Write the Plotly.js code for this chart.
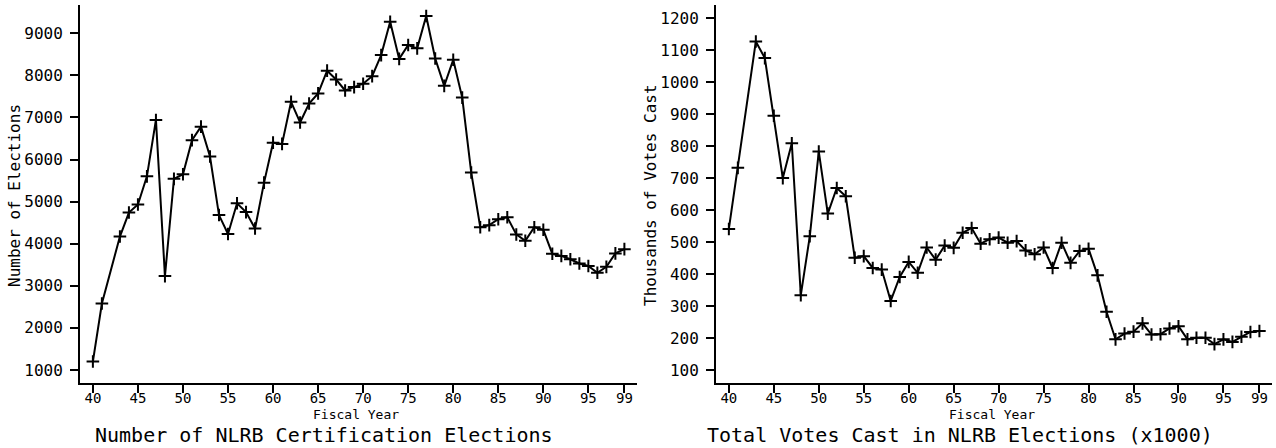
<!DOCTYPE html>
<html>
<head>
<meta charset="utf-8">
<script src="https://cdn.plot.ly/plotly-3.0.1.min.js"></script>
<style>html,body{margin:0;padding:0;background:#fff;}#chart{width:1276px;height:448px;}</style>
</head>
<body>
<div id="chart"></div>
<script>
const years = [40,41,43,44,45,46,47,48,49,50,51,52,53,54,55,56,57,58,59,60,61,62,63,64,65,66,67,68,69,70,71,72,73,74,75,76,77,78,79,80,81,82,83,84,85,86,87,88,89,90,91,92,93,94,95,96,97,98,99];
const elections = [1200,2580,4170,4740,4930,5600,6940,3230,5540,5650,6460,6780,6070,4680,4230,4960,4750,4360,5450,6400,6370,7370,6880,7330,7570,8110,7900,7640,7720,7800,7980,8480,9270,8390,8720,8640,9410,8400,7750,8370,7470,5690,4390,4440,4580,4630,4220,4070,4390,4330,3760,3710,3630,3530,3470,3310,3450,3770,3870];
const votes = [541,732,1127,1075,895,700,809,334,518,783,589,669,643,451,456,419,414,316,391,438,404,483,445,489,482,529,544,495,509,514,498,503,474,462,483,419,498,435,472,479,396,282,196,214,220,246,211,212,230,237,196,201,201,181,196,188,204,219,222];
const xTickVals = [40,45,50,55,60,65,70,75,80,85,90,95,99];
const xTickText = ['40','45','50','55','60','65','70','75','80','85','90','95','99'];
const yTicksLeft = [1000,2000,3000,4000,5000,6000,7000,8000,9000];
const yTicksRight = [100,200,300,400,500,600,700,800,900,1000,1100,1200];

const FONT = 'DejaVu Sans Mono, monospace';
const lineStyle = {color:'#000', width:2};
const markerStyle = {symbol:'cross-thin', size:9, color:'#000', line:{color:'#000', width:2}};

const traces = [
  {x: years, y: elections, xaxis:'x', yaxis:'y', mode:'lines+markers', line: lineStyle, marker: markerStyle, hoverinfo:'none'},
  {x: years, y: votes, xaxis:'x2', yaxis:'y2', mode:'lines+markers', line: lineStyle, marker: markerStyle, hoverinfo:'none'}
];

function xax(domain, anchor){
  return {domain: domain, anchor: anchor, range:[38.57,100.4], tickmode:'array', tickvals: xTickVals, ticktext: xTickText,
    showline:true, linecolor:'#000', linewidth:2, ticks:'outside', ticklen:8, tickwidth:2, tickcolor:'#000',
    showgrid:false, zeroline:false, tickfont:{family:FONT, size:14, color:'#000'}, ticklabelstandoff:-7, fixedrange:true};
}
function yax(domain, anchor, range, tv){
  return {domain: domain, anchor: anchor, range: range, tickmode:'array', tickvals: tv,
    showline:true, linecolor:'#000', linewidth:2, ticks:'outside', ticklen:8, tickwidth:2, tickcolor:'#000',
    showgrid:false, zeroline:false, tickfont:{family:FONT, size:16, color:'#000'}, ticklabelstandoff:4, fixedrange:true};
}

const yDom = [65/448, 443/448];
const layout = {
  width:1276, height:448, margin:{l:0,r:0,t:0,b:0}, showlegend:false,
  paper_bgcolor:'#fff', plot_bgcolor:'#fff',
  xaxis: xax([80/1276, 637/1276], 'y'),
  yaxis: yax(yDom, 'x', [691, 9670], yTicksLeft),
  xaxis2: xax([716/1276, 1272/1276], 'y2'),
  yaxis2: yax(yDom, 'x2', [59.5, 1241], yTicksRight),
  annotations: [
    {text:'Fiscal Year', xref:'paper', yref:'paper', x:356/1276, y:(448-414)/448, showarrow:false, font:{family:FONT,size:13,color:'#000'}, xanchor:'center', yanchor:'middle'},
    {text:'Fiscal Year', xref:'paper', yref:'paper', x:992/1276, y:(448-414)/448, showarrow:false, font:{family:FONT,size:13,color:'#000'}, xanchor:'center', yanchor:'middle'},
    {text:'Number of NLRB Certification Elections', xref:'paper', yref:'paper', x:324/1276, y:(448-435)/448, showarrow:false, font:{family:FONT,size:20,color:'#000'}, xanchor:'center', yanchor:'middle'},
    {text:'Total Votes Cast in NLRB Elections (x1000)', xref:'paper', yref:'paper', x:960/1276, y:(448-435)/448, showarrow:false, font:{family:FONT,size:20,color:'#000'}, xanchor:'center', yanchor:'middle'},
    {text:'Number of Elections', xref:'paper', yref:'paper', x:14/1276, y:(448-196)/448, showarrow:false, textangle:-90, font:{family:FONT,size:16,color:'#000'}, xanchor:'center', yanchor:'middle'},
    {text:'Thousands of Votes Cast', xref:'paper', yref:'paper', x:651/1276, y:(448-195)/448, showarrow:false, textangle:-90, font:{family:FONT,size:16,color:'#000'}, xanchor:'center', yanchor:'middle'}
  ]
};

Plotly.newPlot('chart', traces, layout, {staticPlot:true, displayModeBar:false});
</script>
</body>
</html>
